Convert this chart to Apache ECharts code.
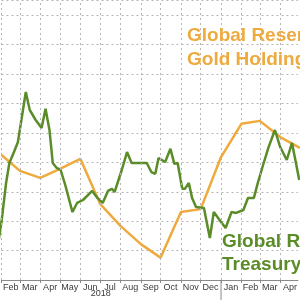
<!DOCTYPE html>
<html>
<head>
<meta charset="utf-8">
<script src="https://cdn.jsdelivr.net/npm/echarts@6/dist/echarts.min.js"></script>
<style>
html,body{margin:0;padding:0;background:#fff;}
#c{width:300px;height:300px;}
</style>
</head>
<body>
<div id="c"></div>
<script>
const monthNames = ['Jan','Feb','Mar','Apr','May','Jun','Jul','Aug','Sep','Oct','Nov','Dec'];
const monthTicks = ['2018-02-01','2018-03-01','2018-04-01','2018-05-01','2018-06-01','2018-07-01','2018-08-01','2018-09-01','2018-10-01','2018-11-01','2018-12-01','2019-01-01','2019-02-01','2019-03-01','2019-04-01'];
const monthLabelDates = ['2018-02-15','2018-03-16','2018-04-16','2018-05-16','2018-06-16','2018-07-16','2018-08-16','2018-09-16','2018-10-16','2018-11-16','2018-12-16','2019-01-16','2019-02-15','2019-03-16','2019-04-16'];
const yearLabel = '2018';

const goldDates = ['2018-02-01','2018-03-01','2018-04-01','2018-05-01','2018-06-01','2018-07-01','2018-08-01','2018-09-01','2018-10-01','2018-11-01','2018-12-01','2019-01-01','2019-02-01','2019-03-01','2019-04-01','2019-05-01'];
const goldValues = [4.25,3.71,3.47,3.78,4.12,2.59,1.84,1.22,0.76,2.31,2.41,4.18,5.31,5.41,4.86,4.49];

const treasuryDates = ['2018-01-28','2018-02-01','2018-02-08','2018-02-13','2018-02-20','2018-02-26','2018-03-10','2018-03-16','2018-03-25','2018-04-03','2018-04-09','2018-04-15','2018-04-20','2018-04-26','2018-05-02','2018-05-09','2018-05-20','2018-05-27','2018-06-05','2018-06-19','2018-06-27','2018-07-05','2018-07-13','2018-07-19','2018-07-23','2018-08-03','2018-08-11','2018-08-18','2018-08-30','2018-09-10','2018-09-17','2018-09-23','2018-09-28','2018-10-08','2018-10-16','2018-10-22','2018-10-27','2018-11-03','2018-11-07','2018-11-13','2018-11-18','2018-11-24','2018-12-06','2018-12-15','2018-12-21','2019-01-01','2019-01-08','2019-01-17','2019-01-24','2019-02-04','2019-02-11','2019-02-20','2019-02-26','2019-03-06','2019-03-14','2019-03-24','2019-04-01','2019-04-11','2019-04-19','2019-04-25','2019-04-30'];
const treasuryValues = [1.4,1.97,3.30,3.98,4.35,4.69,6.39,5.78,5.44,5.17,5.82,5.10,3.98,3.81,3.74,3.23,2.31,2.62,2.72,3.03,2.79,2.62,3.03,3.10,2.99,3.74,4.35,3.98,3.98,3.98,3.67,3.61,4.15,4.01,4.46,3.95,3.98,3.10,3.10,3.30,2.79,2.48,2.45,1.43,2.31,1.97,1.77,2.31,2.28,2.38,2.79,2.79,3.30,3.91,4.49,5.10,4.52,4.08,4.66,3.98,3.40];

const goldLabel = ['Global Reserve', 'Gold Holdings'];
const treasuryLabel = ['Global Reserve', 'Treasury Holdings'];

const GREEN = '#5a8c28';
const ORANGE = '#eeaa3c';
const toTime = s => new Date(s + 'T00:00:00').getTime();
const X_MIN = toTime('2018-02-01');
const X_MAX = toTime('2019-04-28');

const chart = echarts.init(document.getElementById('c'), null, {renderer: 'canvas'});
const gridDash = {color: '#b4b4b4', width: 1, type: [2, 3]};

chart.setOption({
  animation: false,
  backgroundColor: '#ffffff',
  grid: {left: 0, right: 0, top: 0, bottom: 20, containLabel: false},
  xAxis: [
    {
      type: 'value',
      min: X_MIN, max: X_MAX,
      position: 'bottom',
      axisLine: {show: true, lineStyle: {color: '#8a8a8a', width: 1}},
      axisTick: {show: false},
      splitLine: {show: false},
      axisLabel: {
        show: true,
        hideOverlap: false,
        customValues: monthLabelDates.map(toTime),
        fontFamily: 'Liberation Sans, Arial, sans-serif',
        fontSize: 9,
        color: '#3a3a3a',
        margin: 3,
        align: 'center',
        formatter: function (val) { return monthNames[new Date(val).getMonth()]; }
      }
    },
    {
      type: 'value',
      min: X_MIN, max: X_MAX,
      position: 'bottom',
      offset: 0,
      axisLine: {show: false},
      axisTick: {show: true, length: 3, lineStyle: {color: '#8a8a8a'}, customValues: monthTicks.map(toTime)},
      splitLine: {show: false},
      axisLabel: {show: false}
    }
  ],
  yAxis: {
    type: 'value',
    min: 0, max: 9.52, interval: 1,
    axisLine: {show: false},
    axisTick: {show: false},
    axisLabel: {show: false},
    splitLine: {show: true, lineStyle: gridDash}
  },
  series: [
    {
      name: 'Global Reserve Gold Holdings',
      type: 'line',
      xAxisIndex: 0,
      data: goldDates.map((d, i) => [toTime(d), goldValues[i]]),
      showSymbol: false,
      lineStyle: {color: ORANGE, width: 2.5},
      itemStyle: {color: ORANGE},
      z: 2,
      markLine: {
        silent: true,
        symbol: ['none', 'none'],
        label: {show: false},
        lineStyle: gridDash,
        emphasis: {disabled: true},
        data: monthTicks.map(t => ({xAxis: toTime(t)}))
      }
    },
    {
      name: 'Global Reserve Treasury Holdings',
      type: 'line',
      xAxisIndex: 0,
      data: treasuryDates.map((d, i) => [toTime(d), treasuryValues[i]]),
      showSymbol: false,
      lineStyle: {color: GREEN, width: 2.5},
      itemStyle: {color: GREEN},
      z: 3
    }
  ]
});

const yearSep = chart.convertToPixel({xAxisIndex: 0}, toTime('2019-01-01'));
const yearMid = chart.convertToPixel({xAxisIndex: 0}, toTime('2018-07-02'));
const axisY = chart.convertToPixel({yAxisIndex: 0}, 0);

chart.setOption({
  graphic: [
    {type: 'line', shape: {x1: yearSep, y1: axisY, x2: yearSep, y2: 300}, style: {stroke: '#8a8a8a', lineWidth: 1}, z: 10},
    {type: 'text', x: yearMid, y: axisY + 14, style: {text: yearLabel, fill: '#3a3a3a', font: '9px "Liberation Sans", Arial, sans-serif', textAlign: 'center', textVerticalAlign: 'middle'}, z: 10},
    {type: 'text', x: 187, y: 24, style: {text: goldLabel.join('\n'), fill: ORANGE, font: 'bold 19px "Liberation Sans", Arial, sans-serif', lineHeight: 24, textAlign: 'left', textVerticalAlign: 'top'}, z: 10},
    {type: 'text', x: 222, y: 230, style: {text: treasuryLabel.join('\n'), fill: GREEN, font: 'bold 19px "Liberation Sans", Arial, sans-serif', lineHeight: 23, textAlign: 'left', textVerticalAlign: 'top'}, z: 10}
  ]
});
</script>
</body>
</html>
